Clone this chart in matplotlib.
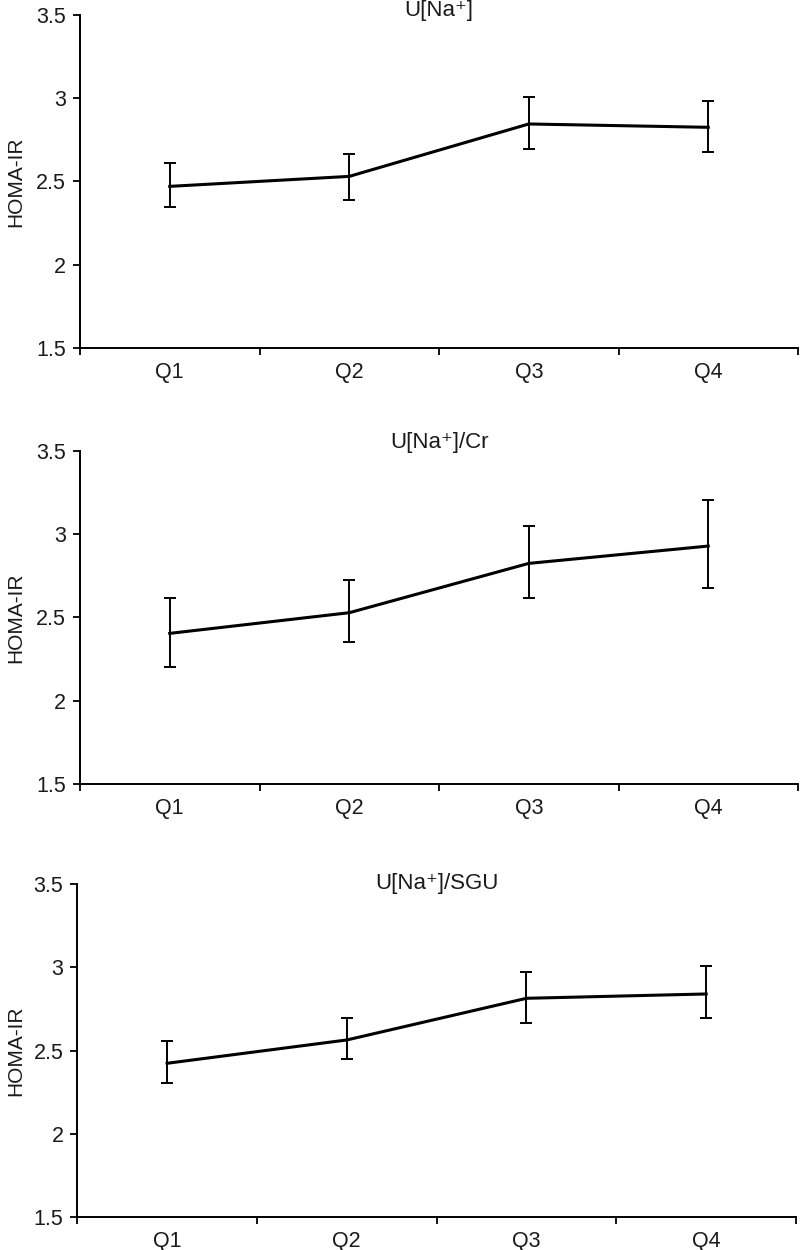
import matplotlib
matplotlib.use("Agg")
import matplotlib.pyplot as plt
import numpy as np

plt.rcParams['font.family'] = ['Liberation Sans', 'DejaVu Sans']

categories = ["Q1", "Q2", "Q3", "Q4"]
titles = ["U[Na\u207a]", "U[Na\u207a]/Cr", "U[Na\u207a]/SGU"]

mean_na = [2.47, 2.53, 2.845, 2.825]
low_na = [2.345, 2.39, 2.695, 2.677]
high_na = [2.61, 2.667, 3.01, 2.983]

mean_cr = [2.404, 2.528, 2.824, 2.928]
low_cr = [2.204, 2.35, 2.618, 2.678]
high_cr = [2.618, 2.724, 3.048, 3.204]

mean_sgu = [2.424, 2.564, 2.814, 2.84]
low_sgu = [2.304, 2.448, 2.668, 2.694]
high_sgu = [2.56, 2.694, 2.97, 3.008]

yticks = [1.5, 2, 2.5, 3, 3.5]
ytick_labels = ["1.5", "2", "2.5", "3", "3.5"]
ylabel = "HOMA-IR"

panels = [
    (mean_na, low_na, high_na),
    (mean_cr, low_cr, high_cr),
    (mean_sgu, low_sgu, high_sgu),
]
positions = [
    [0.100, 0.7218, 0.8975, 0.2662],
    [0.100, 0.3728, 0.8975, 0.2666],
    [0.0966, 0.0262, 0.8984, 0.2666],
]
title_y = [1.015, 1.026, 1.003]

fig = plt.figure(figsize=(8, 12.5), dpi=100)
for i, (m, lo, hi) in enumerate(panels):
    ax = fig.add_axes(positions[i])
    x = np.arange(1, len(categories) + 1)
    m = np.array(m); lo = np.array(lo); hi = np.array(hi)
    yerr = np.vstack([m - lo, hi - m])
    ax.errorbar(x, m, yerr=yerr, color='black', lw=2.2, elinewidth=1.4,
                capsize=4, capthick=1.4)
    ax.set_xlim(0.5, len(categories) + 0.5)
    ax.set_ylim(1.5, 3.5)
    ax.set_yticks(yticks)
    ax.set_yticklabels(ytick_labels, fontsize=15.5, color='#1a1a1a')
    ax.set_xticks(np.arange(0.5, len(categories) + 1, 1.0))
    ax.set_xticklabels([])
    ax.set_xticks(x, minor=True)
    ax.set_xticklabels(categories, minor=True, fontsize=15.5, color='#1a1a1a')
    ax.tick_params(axis='x', which='minor', length=0, pad=10)
    ax.tick_params(axis='x', which='major', length=5, width=1.3, direction='out')
    ax.tick_params(axis='y', length=5, width=1.3, direction='out', pad=5)
    for s in ['top', 'right']:
        ax.spines[s].set_visible(False)
    for s in ['left', 'bottom']:
        ax.spines[s].set_linewidth(1.4)
        ax.spines[s].set_color('black')
    ax.set_ylabel(ylabel, fontsize=15, color='#1a1a1a')
    left_px = positions[i][0] * 800
    ax.yaxis.set_label_coords(-(left_px - 25) / (positions[i][2] * 800), 0.5)
    ax.text(0.5, title_y[i], titles[i], transform=ax.transAxes,
            ha='center', va='center', fontsize=16, color='#1a1a1a')

fig.savefig("out.png", dpi=100)
